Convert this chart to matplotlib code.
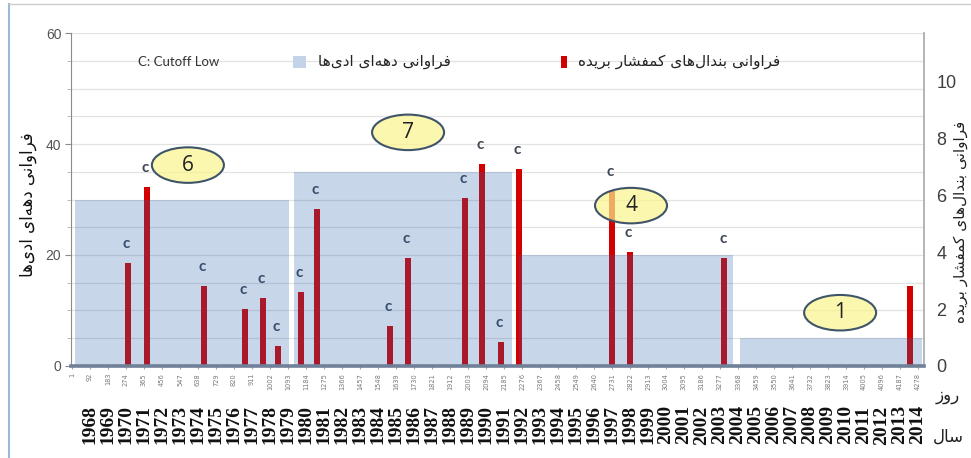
import matplotlib
matplotlib.use("Agg")
import matplotlib.pyplot as plt
from matplotlib.patches import Ellipse, Rectangle
from matplotlib.lines import Line2D
from matplotlib.transforms import blended_transform_factory

# --- data ---
day_ticks = list(range(1, 4279, 91))          # 1, 92, ..., 4278
years = list(range(1968, 2015))                # under ticks 92 .. 4278

# decade frequency of eddies (left axis)
decade_start = [16, 1123, 2261, 3378]
decade_end = [1098, 2225, 3343, 4298]
decade_value = [30, 35, 20, 5]
decade_count = ["6", "7", "4", "1"]
decade_label_day = [587, 1700, 2827, 3884]
decade_label_y = [36.2, 42.1, 28.9, 9.6]

# cutoff low frequency (right axis)
cut_day = [284, 380, 668, 876, 967, 1042, 1159, 1238, 1609, 1698, 1988, 2072,
           2170, 2261, 2729, 2822, 3299, 4238]
cut_freq = [3.6, 6.3, 2.8, 2.0, 2.4, 0.7, 2.6, 5.5, 1.4, 3.8, 5.9, 7.1,
            0.85, 6.9, 6.15, 4.0, 3.8, 2.8]
cut_mark = ["c"] * 17 + [""]

# --- simple persian shaping (no bidi lib available) ---
FORMS = {
    'ا': ('\uFE8D', '\uFE8E', None, None),
    'ب': ('\uFE8F', '\uFE90', '\uFE91', '\uFE92'),
    'د': ('\uFEA9', '\uFEAA', None, None),
    'ر': ('\uFEAD', '\uFEAE', None, None),
    'ز': ('\uFEAF', '\uFEB0', None, None),
    'س': ('\uFEB1', '\uFEB2', '\uFEB3', '\uFEB4'),
    'ش': ('\uFEB5', '\uFEB6', '\uFEB7', '\uFEB8'),
    'ف': ('\uFED1', '\uFED2', '\uFED3', '\uFED4'),
    'ل': ('\uFEDD', '\uFEDE', '\uFEDF', '\uFEE0'),
    'م': ('\uFEE1', '\uFEE2', '\uFEE3', '\uFEE4'),
    'ن': ('\uFEE5', '\uFEE6', '\uFEE7', '\uFEE8'),
    'ه': ('\uFEE9', '\uFEEA', '\uFEEB', '\uFEEC'),
    'و': ('\uFEED', '\uFEEE', None, None),
    '\u06cc': ('\uFBFC', '\uFBFD', '\uFBFE', '\uFBFF'),
    '\u06a9': ('\uFB8E', '\uFB8F', '\uFB90', '\uFB91'),
}


def fa(s):
    s = s.replace('\u064a', '\u06cc').replace('\u0643', '\u06a9')
    out = []
    for i, ch in enumerate(s):
        if ch not in FORMS:
            if ch != '\u200c':
                out.append(ch)
            continue
        prev = s[i - 1] if i > 0 else ''
        nxt = s[i + 1] if i < len(s) - 1 else ''
        jp = prev in FORMS and FORMS[prev][2] is not None
        jn = nxt in FORMS and FORMS[ch][2] is not None
        iso, fin, ini, med = FORMS[ch]
        if jp and jn:
            out.append(med)
        elif jp:
            out.append(fin)
        elif jn:
            out.append(ini)
        else:
            out.append(iso)
    return ''.join(reversed(out))


eddy_lbl = fa("فراوانی دهه\u200cای ادی\u200cها")
cut_lbl = fa("فراوانی بندال\u200cهای کمفشار بریده")
day_lbl = fa("روز")
year_lbl = fa("سال")

narrow = ["Liberation Sans Narrow", "Liberation Sans", "DejaVu Sans"]

fig = plt.figure(figsize=(9.71, 4.58), dpi=100)
fig.patch.set_facecolor("white")
ax = fig.add_axes([0.0731, 0.2009, 0.8785, 0.727])
ax2 = ax.twinx()
ax.set_zorder(2)
ax2.set_zorder(1)
ax.patch.set_visible(False)

xmin, xmax = -4, 4308
ax.set_xlim(xmin, xmax)
ax.set_ylim(0, 60)
ax2.set_ylim(0, 11.69)

# gridlines every 5 (left units), under the bars
gt = blended_transform_factory(ax2.transAxes, ax.transData)
for g in range(5, 61, 5):
    ax2.add_line(Line2D([0, 1], [g, g], transform=gt, color="#e2e2e2", lw=0.9, zorder=0))

# cutoff low bars
ax2.bar(cut_day, cut_freq, width=30, color="#d40000", zorder=3)
for d, v, m in zip(cut_day, cut_freq, cut_mark):
    ax2.text(d - 8, v + 0.42, m, ha="center", va="bottom", fontsize=11,
             fontweight="bold", color="#3d4756", family="Lato", zorder=4)

# decade shading (drawn above bars, semi transparent)
ax.bar(decade_start, decade_value, width=[e - s for s, e in zip(decade_start, decade_end)],
       align="edge", color="#2b61ae", alpha=0.26, zorder=2, linewidth=0)

# decade count ellipses
for d, y, c in zip(decade_label_day, decade_label_y, decade_count):
    ax.add_patch(Ellipse((d, y), 364, 6.4, facecolor=(0.98, 0.96, 0.55, 0.7),
                         edgecolor="#3f5468", lw=1.5, zorder=5))
    ax.text(d, y, c, ha="center", va="center", fontsize=15, color="#222222",
            family="Open Sans", zorder=6)

# axes styling
ax.spines["top"].set_visible(False)
ax2.spines["top"].set_visible(False)
ax.spines["right"].set_visible(False)
ax2.spines["left"].set_visible(False)
ax2.spines["bottom"].set_visible(False)
ax.spines["left"].set_color("#8a8a8a")
ax2.spines["right"].set_color("#a8a8a8")
ax2.spines["right"].set_linewidth(1.2)
ax.spines["bottom"].set_color("#6f8097")
ax.spines["bottom"].set_linewidth(2.6)
ax.spines["bottom"].set_zorder(7)

ax.set_yticks([0, 20, 40, 60])
ax.set_yticks(range(0, 61, 5), minor=True)
ax.tick_params(axis="y", which="major", length=4, color="#8a8a8a", labelsize=10,
               labelcolor="#555555", pad=3)
ax.tick_params(axis="y", which="minor", length=3, color="#b0b0b0")
for t in ax.get_yticklabels():
    t.set_family(narrow)

ax2.set_yticks([0, 2, 4, 6, 8, 10])
ax2.tick_params(axis="y", length=0, labelsize=13, labelcolor="#404040", pad=9)
for t in ax2.get_yticklabels():
    t.set_family(narrow)

ax.set_xticks(day_ticks)
ax.set_xticklabels([str(d) for d in day_ticks], rotation=90, fontsize=4.8, color="#7a7a7a")
ax.tick_params(axis="x", length=2, color="#9aa6b5", pad=3)

# year row
xt = ax.get_xaxis_transform()
for d, yr in zip(day_ticks[1:], years):
    ax.text(d, -0.177, str(yr), transform=xt, rotation=90, ha="center", va="center",
            fontsize=14, fontweight="bold", family="Liberation Serif", color="#111111")

# legend
ax.text(0.079, 0.913, "C: Cutoff Low", transform=ax.transAxes, fontsize=9.5,
        family="Lato", color="#333333", va="center", ha="left")
ax.add_patch(Rectangle((0.260, 0.895), 0.015, 0.036, transform=ax.transAxes,
                       facecolor="#c5d3e8", edgecolor="none", zorder=6))
ax.text(0.290, 0.913, eddy_lbl, transform=ax.transAxes, fontsize=11,
        family="DejaVu Sans", color="#222222", va="center", ha="left")
ax.add_patch(Rectangle((0.574, 0.895), 0.007, 0.036, transform=ax.transAxes,
                       facecolor="#d00000", edgecolor="none", zorder=6))
ax.text(0.594, 0.913, cut_lbl, transform=ax.transAxes, fontsize=11,
        family="DejaVu Sans", color="#222222", va="center", ha="left")

# axis titles
fig.text(28 / 971, 1 - 205 / 458, eddy_lbl, rotation=90, ha="center", va="center",
         fontsize=12, family="DejaVu Sans", color="#111111")
fig.text(960 / 971, 1 - 222 / 458, cut_lbl, rotation=90, ha="center", va="center",
         fontsize=11, family="DejaVu Sans", color="#222222")
fig.text(948 / 971, 1 - 395 / 458, day_lbl, ha="center", va="center", fontsize=12,
         family="DejaVu Sans", color="#222222")
fig.text(948 / 971, 1 - 437 / 458, year_lbl, ha="center", va="center", fontsize=12,
         family="DejaVu Sans", color="#222222")

# outer frame
fig.add_artist(Line2D([9 / 971, 9 / 971], [0, 1 - 4 / 458], color="#9db7d9", lw=1.5))
fig.add_artist(Line2D([9 / 971, 1], [1 - 4 / 458, 1 - 4 / 458], color="#cccccc", lw=1.0))

fig.savefig("out.png", dpi=100)
